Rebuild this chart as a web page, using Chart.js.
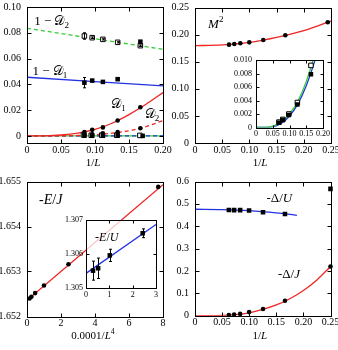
<!DOCTYPE html>
<html>
<head>
<meta charset="utf-8">
<script src="https://cdn.jsdelivr.net/npm/chart.js@4/dist/chart.umd.min.js"></script>
<style>
  body { margin: 0; background: #fff; }
  #wrap { position: relative; width: 338px; height: 350px; }
  #wrap canvas { position: absolute; left: 0; top: 0; }
</style>
</head>
<body>
<div id="wrap">
  <canvas id="tl" width="338" height="350"></canvas>
  <canvas id="tr" width="338" height="350"></canvas>
  <canvas id="bl" width="338" height="350"></canvas>
  <canvas id="br" width="338" height="350"></canvas>
  <canvas id="ti" width="338" height="350"></canvas>
  <canvas id="bi" width="338" height="350"></canvas>
</div>
<script>
const W = 338, H = 350;
const FONT = "'Liberation Serif', 'DejaVu Serif', serif";
const RED = '#f02424', BLUE = '#2233e0', GREEN = '#33cc33';

// ---- top left: 1-D and D against 1/L
const tlL = [0.0844, 0.0959, 0.1116, 0.1333, 0.1667];
const tlOneMinusD2 = [0.0775, 0.0762, 0.0749, 0.0726, 0.0700];
const tlOneMinusD2Err = [0.0025, 0.0006, 0.0005, 0.0005, 0.0006];
const tlExtraL = [0.1667];
const tlExtraSquare = [0.0731];
const tlL1 = [0.0844, 0.0959, 0.1116, 0.1333];
const tlOneMinusD1 = [0.0413, 0.0429, 0.0419, 0.0440];
const tlOneMinusD1Err = [0.0040, 0.0010, 0.0008, 0.0008];
const tlD1 = [0.0030, 0.0047, 0.0066, 0.0119, 0.0222];
const tlD2 = [0.0014, 0.0013, 0.0021, 0.0029, 0.0060];
const tlZeroL = [0.0844, 0.0959, 0.1116, 0.1333, 0.1700];
const tlZeroFilled = [0.0002, 0.0001, 0.0001, 0.0002, 0.0000];
const tlZeroFilledErr = [0.0012, 0.0008, 0.0008, 0.0008, 0.0006];
const tlZeroOpenL = [0.0830, 0.0945, 0.1100, 0.1320, 0.1660];
const tlZeroOpen = [0.0008, 0.0005, 0.0006, 0.0005, 0.0004];
const tlFitL = [0, 0.025, 0.05, 0.075, 0.1, 0.125, 0.15, 0.175, 0.2];
const tlFitD1 = [0, 0.0001, 0.0007, 0.0022, 0.0050, 0.0098, 0.0165, 0.0245, 0.0336];
const tlFitD2 = [0, 0, 0.0001, 0.0003, 0.0009, 0.0021, 0.0040, 0.0072, 0.0119];
const tlLineL = [0, 0.2];
const tlFitOneMinusD2 = [0.0835, 0.0672];
const tlFitOneMinusD1 = [0.0455, 0.0388];
const tlFitZero = [0, 0];
const tlXTicks = [0, 0.05, 0.1, 0.15, 0.2];
const tlXLabels = ['0', '0.05', '0.10', '0.15', '0.20'];
const tlYTicks = [0, 0.02, 0.04, 0.06, 0.08, 0.1];
const tlYLabels = ['0', '0.02', '0.04', '0.06', '0.08', '0.10'];

// ---- top right: M^2 against 1/L
const trL = [0.0625, 0.0722, 0.0833, 0.0998, 0.1255, 0.166, 0.244];
const trM2 = [0.1815, 0.1827, 0.1840, 0.1857, 0.1900, 0.1988, 0.2228];
const trFitL = [0, 0.05, 0.1, 0.15, 0.2, 0.25];
const trFitM2 = [0.1795, 0.1810, 0.1857, 0.1950, 0.2075, 0.2250];
const trXTicks = [0, 0.05, 0.1, 0.15, 0.2, 0.25];
const trXLabels = ['0', '0.05', '0.10', '0.15', '0.20', '0.25'];
const trYTicks = [0, 0.05, 0.1, 0.15, 0.2, 0.25];
const trYLabels = ['0', '0.05', '0.10', '0.15', '0.20', '0.25'];

// ---- top right inset
const tiL = [0.0685, 0.080, 0.098, 0.1235, 0.164];
const tiFilled = [0.0007, 0.0011, 0.00185, 0.0034, 0.0079];
const tiOpen = [0.0008, 0.0012, 0.0020, 0.0037, 0.0092];
const tiFitL = [0, 0.025, 0.05, 0.075, 0.1, 0.125, 0.15, 0.175, 0.2];
const tiFitGreen = [0, 0, 0.0002, 0.0008, 0.0020, 0.0039, 0.0068, 0.0108, 0.0160];
const tiFitBlue = [0, 0, 0.0001, 0.0006, 0.0017, 0.0035, 0.0062, 0.0098, 0.0145];
const tiXTicks = [0, 0.05, 0.1, 0.15, 0.2];
const tiXLabels = ['0', '0.05', '0.10', '0.15', '0.20'];
const tiYTicks = [0, 0.002, 0.004, 0.006, 0.008, 0.01];
const tiYLabels = ['0', '0.002', '0.004', '0.006', '0.008', '0.010'];

// ---- bottom left: -E/J against 0.0001/L^4
const blX = [0.15, 0.26, 0.48, 1.0, 2.44, 7.72];
const blE = [1.65240, 1.65244, 1.65252, 1.65269, 1.65316, 1.65488];
const blFitX = [0, 8];
const blFitE = [1.65236, 1.65493];
const blXTicks = [0, 2, 4, 6, 8];
const blXLabels = ['0', '2', '4', '6', '8'];
const blYTicks = [1.652, 1.653, 1.654, 1.655];
const blYLabels = ['1.652', '1.653', '1.654', '1.655'];

// ---- bottom left inset: -E/U
const biX = [0.30, 0.52, 1.02, 2.43];
const biE = [1.30551, 1.30558, 1.30596, 1.30661];
const biErr = [0.00028, 0.00030, 0.00018, 0.00013];
const biFitX = [0, 3];
const biFitE = [1.30543, 1.30687];
const biXTicks = [0, 1, 2, 3];
const biXLabels = ['0', '1', '2', '3'];
const biYTicks = [1.305, 1.306, 1.307];
const biYLabels = ['1.305', '1.306', '1.307'];

// ---- bottom right: gaps against 1/L
const brL = [0.0625, 0.0722, 0.0833, 0.0998, 0.1255, 0.166, 0.25];
const brGapU = [0.473, 0.472, 0.472, 0.470, 0.463, 0.455, 0.567];
const brGapJ = [0.003, 0.005, 0.008, 0.016, 0.030, 0.067, 0.220];
const brFitUL = [0, 0.05, 0.1, 0.15, 0.188];
const brFitU = [0.476, 0.4745, 0.4695, 0.4595, 0.449];
const brFitJL = [0, 0.025, 0.05, 0.075, 0.1, 0.125, 0.15, 0.175, 0.2, 0.225, 0.25];
const brFitJ = [0, 0.0002, 0.0015, 0.005, 0.013, 0.028, 0.048, 0.076, 0.113, 0.160, 0.220];
const brXTicks = [0, 0.05, 0.1, 0.15, 0.2, 0.25];
const brXLabels = ['0', '0.05', '0.10', '0.15', '0.20', '0.25'];
const brYTicks = [0, 0.1, 0.2, 0.3, 0.4, 0.5, 0.6];
const brYLabels = ['0', '0.1', '0.2', '0.3', '0.4', '0.5', '0.6'];

function pts(xs, ys) {
  return xs.map((x, i) => ({x: x, y: ys[i]}));
}

function circles(xs, ys, errs) {
  return {data: pts(xs, ys), errors: errs, showLine: false, pointStyle: 'circle',
    pointRadius: 2.3, pointBackgroundColor: '#000', pointBorderWidth: 0, clip: 6, order: 0};
}

function squares(xs, ys, errs, open) {
  return {data: pts(xs, ys), errors: errs, showLine: false, pointStyle: 'rect',
    pointRadius: 3.2, pointBackgroundColor: open ? '#fff' : '#000',
    pointBorderColor: '#000', pointBorderWidth: open ? 1 : 0, clip: 6, order: 0};
}

function curve(xs, ys, color, dashed) {
  return {data: pts(xs, ys), showLine: true, pointRadius: 0, borderColor: color,
    borderWidth: 1.3, borderDash: dashed ? [4, 3] : [], cubicInterpolationMode: 'monotone',
    clip: 0, order: 1};
}

// text with italic / sub / sup parts: [text, flags]
function drawRich(ctx, parts, x, y, size, align) {
  const fontOf = f => (f.includes('i') ? 'italic ' : '') +
    ((f.includes('b') || f.includes('p')) ? size * 0.7 : size) + 'px ' + FONT;
  let total = 0;
  parts.forEach(p => { ctx.font = fontOf(p[1] || ''); total += ctx.measureText(p[0]).width; });
  let cx = align === 'center' ? x - total / 2 : x;
  ctx.fillStyle = '#000';
  ctx.textBaseline = 'middle';
  ctx.textAlign = 'left';
  parts.forEach(p => {
    const f = p[1] || '';
    ctx.font = fontOf(f);
    let dy = 0;
    if (f.includes('b')) dy = size * 0.28;
    if (f.includes('p')) dy = -size * 0.38;
    ctx.fillText(p[0], cx, y + dy);
    cx += ctx.measureText(p[0]).width;
  });
}

function decor(p) {
  return {
    id: 'decor',
    beforeDraw(chart) {
      if (!p.bg) return;
      const ctx = chart.ctx, a = chart.chartArea;
      ctx.save();
      ctx.fillStyle = p.bg;
      ctx.fillRect(a.left, a.top, a.right - a.left, a.bottom - a.top);
      ctx.restore();
    },
    afterDatasetsDraw(chart) {
      const ctx = chart.ctx, a = chart.chartArea;
      const xs = chart.scales.x, ys = chart.scales.y;
      ctx.save();
      ctx.strokeStyle = '#000';
      ctx.lineWidth = 1;
      // error bars
      chart.data.datasets.forEach(ds => {
        if (!ds.errors) return;
        ds.data.forEach((pt, i) => {
          const e = ds.errors[i];
          if (!e) return;
          const px = Math.round(xs.getPixelForValue(pt.x)) + 0.5;
          const y1 = ys.getPixelForValue(pt.y - e), y2 = ys.getPixelForValue(pt.y + e);
          ctx.beginPath();
          ctx.moveTo(px, y1); ctx.lineTo(px, y2);
          ctx.moveTo(px - 1.5, y1); ctx.lineTo(px + 1.5, y1);
          ctx.moveTo(px - 1.5, y2); ctx.lineTo(px + 1.5, y2);
          ctx.stroke();
        });
      });
      // frame
      const l = Math.round(a.left) + 0.5, r = Math.round(a.right) + 0.5;
      const t = Math.round(a.top) + 0.5, b = Math.round(a.bottom) + 0.5;
      ctx.strokeRect(l, t, r - l, b - t);
      // inward ticks on all four sides
      const tk = p.tickLen;
      ctx.beginPath();
      p.x.ticks.forEach(v => {
        const px = Math.round(xs.getPixelForValue(v)) + 0.5;
        ctx.moveTo(px, b); ctx.lineTo(px, b - tk);
        ctx.moveTo(px, t); ctx.lineTo(px, t + tk);
      });
      p.y.ticks.forEach(v => {
        const py = Math.round(ys.getPixelForValue(v)) + 0.5;
        ctx.moveTo(l, py); ctx.lineTo(l + tk, py);
        ctx.moveTo(r, py); ctx.lineTo(r - tk, py);
      });
      ctx.stroke();
      // labels
      (p.notes || []).forEach(n => {
        if (n.xtitle) {
          drawRich(ctx, n.parts, (a.left + a.right) / 2 + (n.shift || 0), a.bottom + 20, n.size, 'center');
        } else {
          drawRich(ctx, n.parts, xs.getPixelForValue(n.x), ys.getPixelForValue(n.y), n.size, 'left');
        }
      });
      ctx.restore();
    }
  };
}

function makeChart(id, p) {
  const [L, T, R, B] = p.box;
  const axis = (a, isX) => ({
    type: 'linear', min: a.min, max: a.max,
    grid: {display: false, drawTicks: false},
    border: {display: false},
    ticks: {font: {family: FONT, size: p.fontSize}, color: '#000',
      padding: isX ? p.xPad : p.yPad, autoSkip: false, maxRotation: 0, minRotation: 0,
      callback: (v, i) => a.labels[i]},
    afterBuildTicks: s => { s.ticks = a.ticks.map(v => ({value: v})); },
    afterFit: s => {
      if (isX) s.height = 20; else s.width = L;
      s.paddingLeft = 0; s.paddingRight = 0; s.paddingTop = 0; s.paddingBottom = 0;
    }
  });
  return new Chart(document.getElementById(id), {
    type: 'scatter',
    data: {datasets: p.datasets},
    options: {
      responsive: false, animation: false, events: [], devicePixelRatio: 1,
      layout: {padding: {left: 0, top: T, right: W - R, bottom: H - B - 20}},
      plugins: {legend: {display: false}, tooltip: {enabled: false}},
      scales: {x: axis(p.x, true), y: axis(p.y, false)}
    },
    plugins: [decor(p)]
  });
}

const oneOverL = [['1/'], ['L', 'i']];

makeChart('tl', {
  box: [27, 7, 163, 143], fontSize: 10, xPad: 1, yPad: 6, tickLen: 4,
  x: {min: 0, max: 0.2, ticks: tlXTicks, labels: tlXLabels},
  y: {min: -0.0055, max: 0.1, ticks: tlYTicks, labels: tlYLabels},
  datasets: [
    squares(tlExtraL, tlExtraSquare, null, false),
    squares(tlL, tlOneMinusD2, tlOneMinusD2Err, true),
    squares(tlL1, tlOneMinusD1, tlOneMinusD1Err, false),
    circles(tlL, tlD1),
    circles(tlL, tlD2),
    squares(tlZeroL, tlZeroFilled, tlZeroFilledErr, false),
    squares(tlZeroOpenL, tlZeroOpen, null, true),
    curve(tlLineL, tlFitOneMinusD2, GREEN, true),
    curve(tlLineL, tlFitOneMinusD1, BLUE, false),
    curve(tlFitL, tlFitD1, RED, false),
    curve(tlFitL, tlFitD2, RED, true),
    curve(tlLineL, tlFitZero, BLUE, true),
    curve(tlLineL, tlFitZero, GREEN, false)
  ],
  notes: [
    {x: 0.0105, y: 0.0886, size: 13, parts: [['1 − '], ['𝒟'], ['2', 'b']]},
    {x: 0.0080, y: 0.0498, size: 13, parts: [['1 − '], ['𝒟'], ['1', 'b']]},
    {x: 0.124, y: 0.0240, size: 13, parts: [['𝒟'], ['1', 'b']]},
    {x: 0.173, y: 0.0163, size: 13, parts: [['𝒟'], ['2', 'b']]},
    {xtitle: true, size: 11, shift: -2, parts: oneOverL}
  ]
});

makeChart('tr', {
  box: [195, 7.5, 331, 143], fontSize: 10, xPad: 1, yPad: 6, tickLen: 4,
  x: {min: 0, max: 0.25, ticks: trXTicks, labels: trXLabels},
  y: {min: 0, max: 0.25, ticks: trYTicks, labels: trYLabels},
  datasets: [
    circles(trL, trM2),
    curve(trFitL, trFitM2, RED, false)
  ],
  notes: [
    {x: 0.024, y: 0.2185, size: 13, parts: [['M', 'i'], ['2', 'p']]},
    {xtitle: true, size: 11, shift: -3, parts: oneOverL}
  ]
});

makeChart('bl', {
  box: [27, 181.5, 163, 316.5], fontSize: 10, xPad: 1, yPad: 6, tickLen: 4,
  x: {min: 0, max: 8, ticks: blXTicks, labels: blXLabels},
  y: {min: 1.652, max: 1.655, ticks: blYTicks, labels: blYLabels},
  datasets: [
    circles(blX, blE),
    curve(blFitX, blFitE, RED, false)
  ],
  notes: [
    {x: 0.71, y: 1.65459, size: 14, parts: [['-'], ['E', 'i'], ['/'], ['J', 'i']]},
    {xtitle: true, size: 11, shift: -2, parts: [['0.0001/'], ['L', 'i'], ['4', 'p']]}
  ]
});

makeChart('br', {
  box: [195, 181.5, 330.5, 315.7], fontSize: 10, xPad: 1, yPad: 6, tickLen: 4,
  x: {min: 0, max: 0.25, ticks: brXTicks, labels: brXLabels},
  y: {min: 0, max: 0.6, ticks: brYTicks, labels: brYLabels},
  datasets: [
    squares(brL, brGapU, null, false),
    circles(brL, brGapJ),
    curve(brFitUL, brFitU, BLUE, false),
    curve(brFitJL, brFitJ, RED, false)
  ],
  notes: [
    {x: 0.132, y: 0.522, size: 13, parts: [['-Δ/'], ['U', 'i']]},
    {x: 0.153, y: 0.182, size: 13, parts: [['-Δ/'], ['J', 'i']]},
    {xtitle: true, size: 11, shift: -3, parts: oneOverL}
  ]
});

makeChart('ti', {
  box: [256, 60, 323, 127.5], fontSize: 8, xPad: 2, yPad: 4, tickLen: 3, bg: '#fff',
  x: {min: 0, max: 0.2, ticks: tiXTicks, labels: tiXLabels},
  y: {min: 0, max: 0.01, ticks: tiYTicks, labels: tiYLabels},
  datasets: [
    squares(tiL, tiFilled, null, false),
    squares(tiL, tiOpen, null, true),
    curve(tiFitL, tiFitGreen, GREEN, false),
    curve(tiFitL, tiFitBlue, BLUE, false)
  ],
  notes: []
});

makeChart('bi', {
  box: [86, 220, 156, 288], fontSize: 8, xPad: 2, yPad: 3, tickLen: 3, bg: 'rgba(255,255,255,0.75)',
  x: {min: 0, max: 3, ticks: biXTicks, labels: biXLabels},
  y: {min: 1.305, max: 1.307, ticks: biYTicks, labels: biYLabels},
  datasets: [
    squares(biX, biE, biErr, false),
    curve(biFitX, biFitE, BLUE, false)
  ],
  notes: [
    {x: 0.39, y: 1.30648, size: 12, parts: [['-'], ['E', 'i'], ['/'], ['U', 'i']]}
  ]
});
</script>
</body>
</html>
